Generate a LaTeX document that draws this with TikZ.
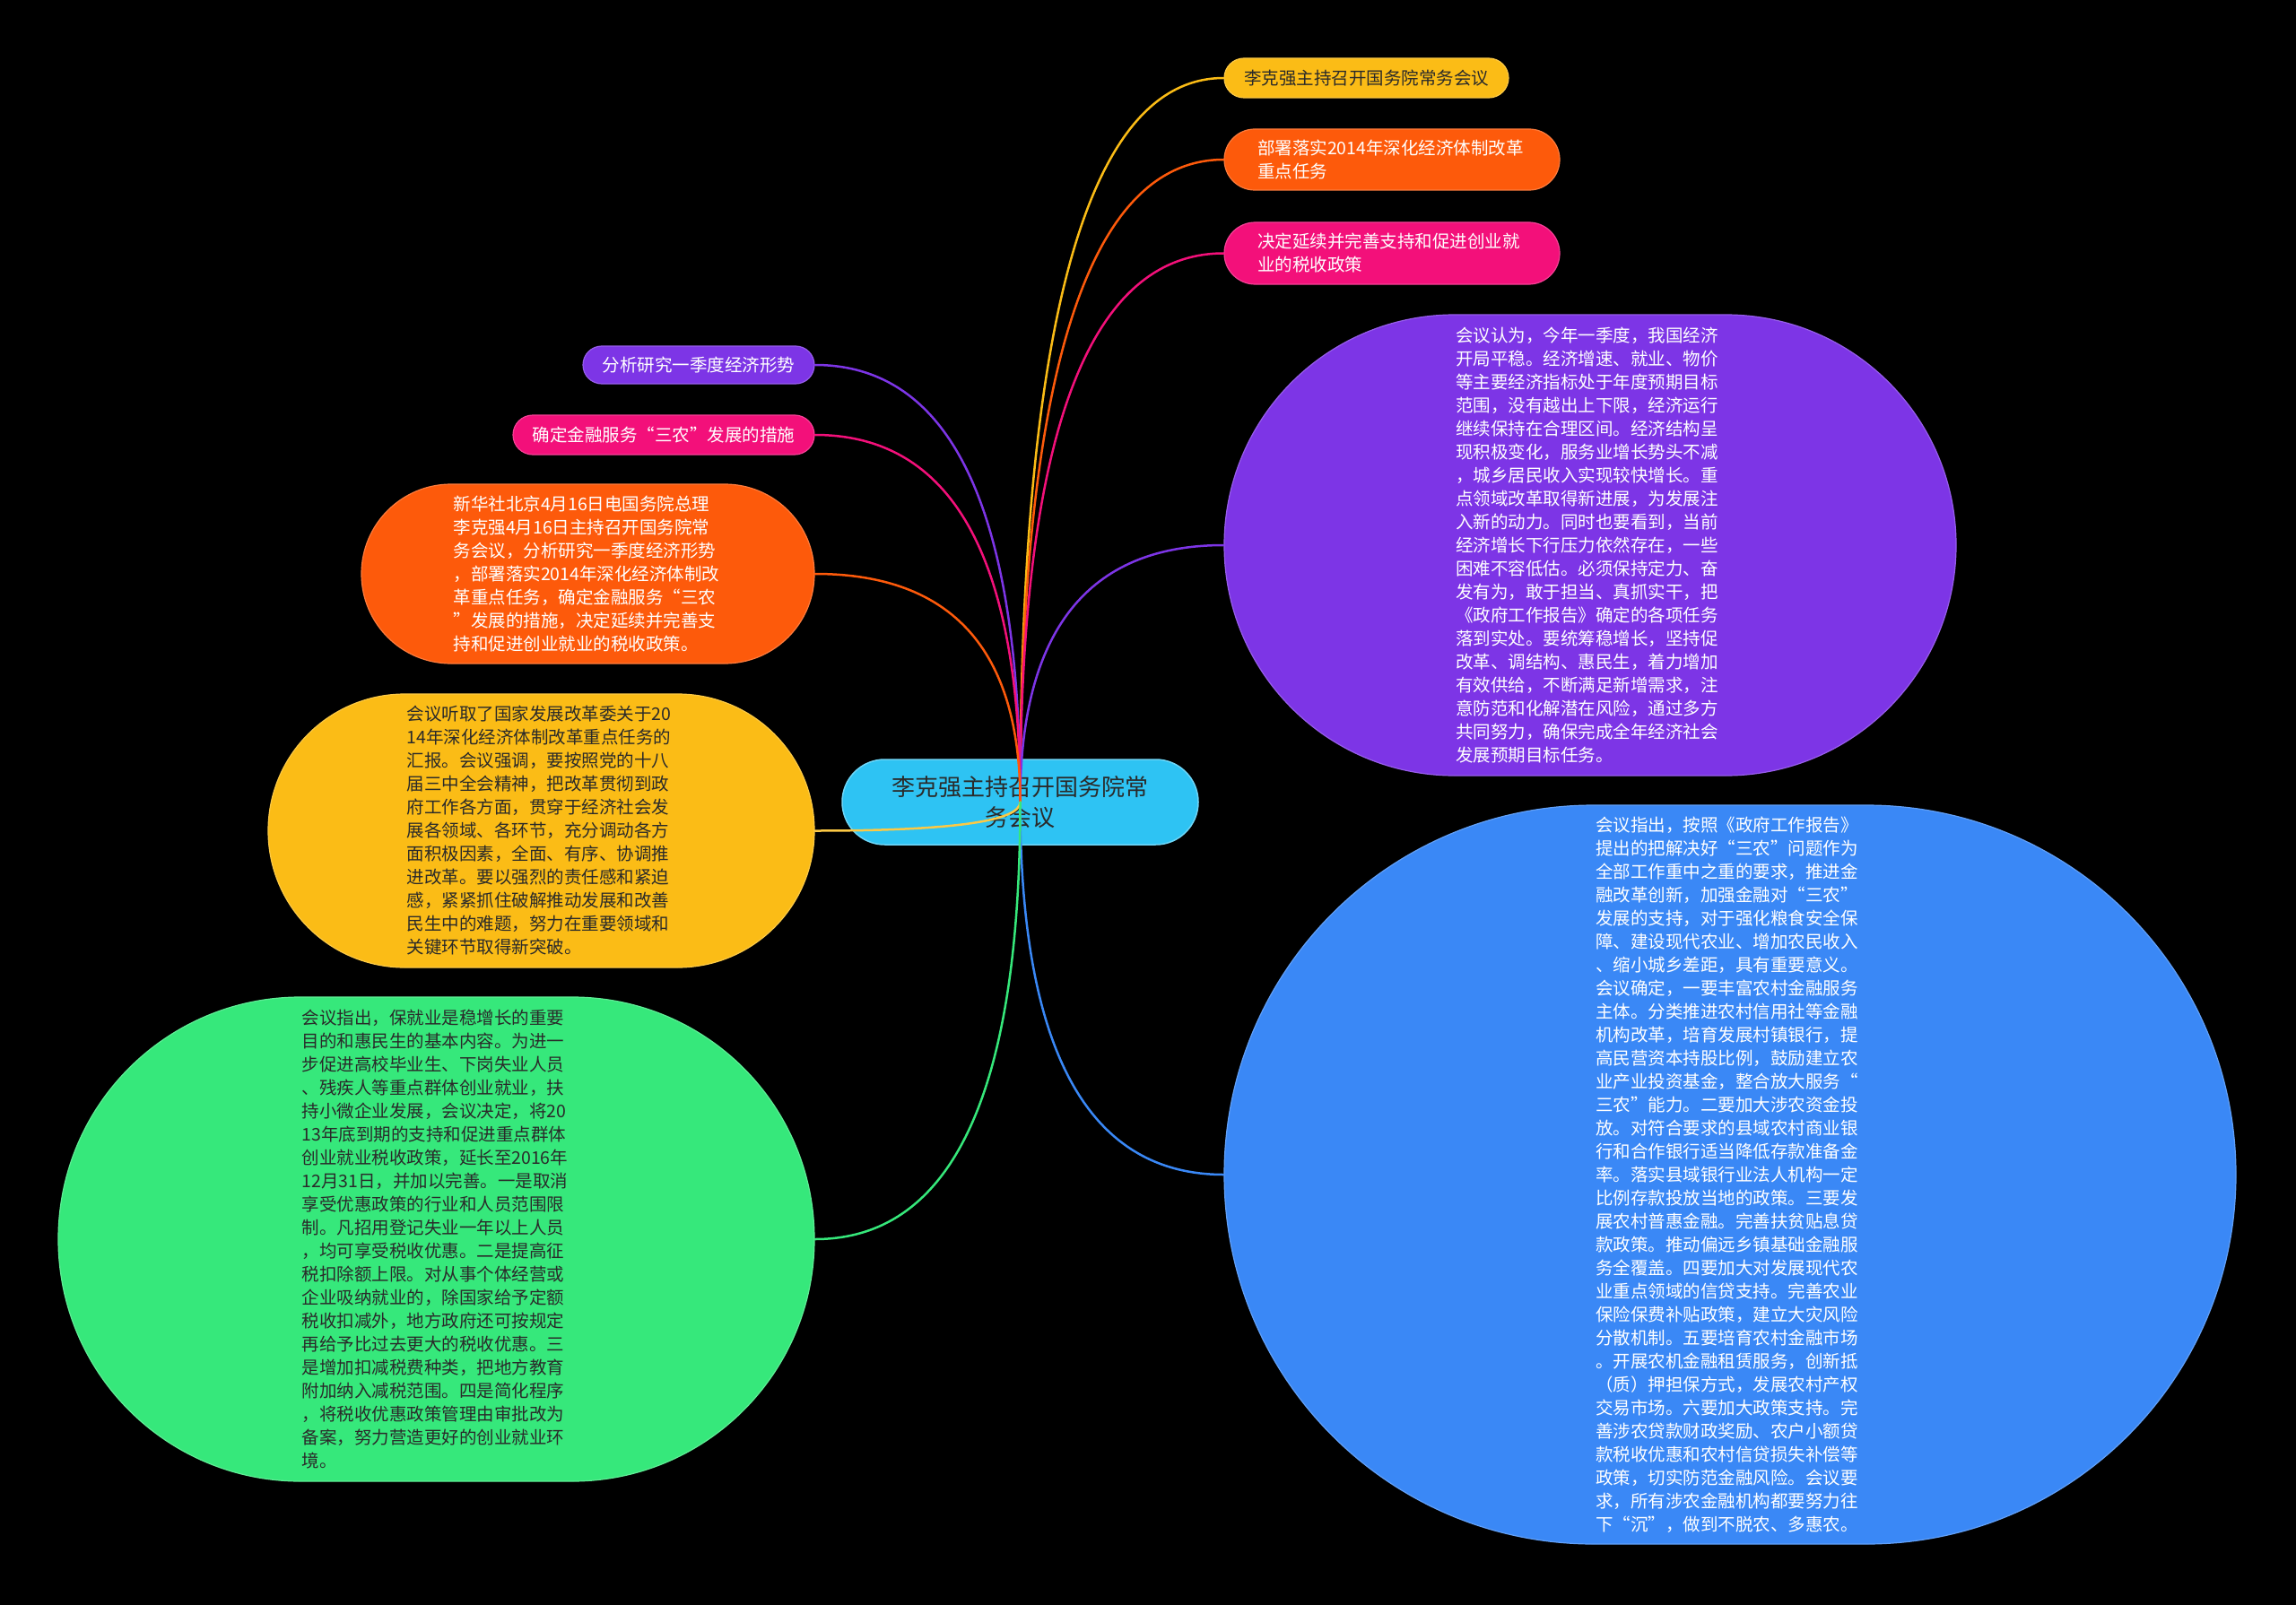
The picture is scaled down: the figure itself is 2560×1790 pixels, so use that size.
\documentclass[tikz,border=0pt]{standalone}
\usepackage{fontspec}
\newfontfamily\cjk{Noto Sans CJK SC}
\usetikzlibrary{shapes.misc,calc}
\definecolor{rootc}{HTML}{2EC3F3}
\definecolor{yelc}{HTML}{FBBC16}
\definecolor{orac}{HTML}{FD5A0B}
\definecolor{pinc}{HTML}{F3107A}
\definecolor{purc}{HTML}{7D35E6}
\definecolor{bluc}{HTML}{3A88F6}
\definecolor{grnc}{HTML}{36E87B}
\definecolor{darktext}{HTML}{2A2A2A}
\newcommand\mmlink[3]{%
  \coordinate (mmk) at (#2 |- #3);
  \draw[link,#1] (#2) .. controls ($(#2)!0.667!(mmk)$) and ($(#3)!0.667!(mmk)$) .. (#3);}
\begin{document}
\begin{tikzpicture}[x=1pt,y=-1pt,
  box/.style={rounded rectangle, inner sep=0pt, line width=1.2pt,
    font=\cjk\fontsize{19.5}{26}\selectfont},
  para/.style={box, text width=300pt, align=left},
  line/.style={box, align=center},
  link/.style={line width=2.5pt, line cap=round}]
\fill[black] (0,0) rectangle (2560,1790);
\useasboundingbox (0,0) rectangle (2560,1790);

% root
\node[rounded rectangle, inner sep=0pt, fill=rootc, draw=rootc!70!white, line width=1.5pt,
  minimum width=397pt, minimum height=95pt, text=darktext, align=center,
  font=\cjk\fontsize{26}{34}\selectfont] (root) at (1137.5,894.5)
  {李克强主持召开国务院常\\务会议};

% right side
\node[line, fill=yelc, draw=yelc!80!white, text=darktext, minimum width=317pt, minimum height=44pt]
  (t1) at (1523.5,87) {李克强主持召开国务院常务会议};
\node[para, fill=orac, draw=orac!80!white, text=white, minimum width=374pt, minimum height=68pt]
  (t2) at (1552,178) {部署落实2014年深化经济体制改革\\重点任务};
\node[para, fill=pinc, draw=pinc!80!white, text=white, minimum width=374pt, minimum height=69pt]
  (t3) at (1552,282.5) {决定延续并完善支持和促进创业就\\业的税收政策};
\node[para, fill=purc, draw=purc!80!white, text=white, minimum width=816pt, minimum height=514pt]
  (p) at (1773,608) {会议认为，今年一季度，我国经济\\
开局平稳。经济增速、就业、物价\\
等主要经济指标处于年度预期目标\\
范围，没有越出上下限，经济运行\\
继续保持在合理区间。经济结构呈\\
现积极变化，服务业增长势头不减\\
，城乡居民收入实现较快增长。重\\
点领域改革取得新进展，为发展注\\
入新的动力。同时也要看到，当前\\
经济增长下行压力依然存在，一些\\
困难不容低估。必须保持定力、奋\\
发有为，敢于担当、真抓实干，把\\
《政府工作报告》确定的各项任务\\
落到实处。要统筹稳增长，坚持促\\
改革、调结构、惠民生，着力增加\\
有效供给，不断满足新增需求，注\\
意防范和化解潜在风险，通过多方\\
共同努力，确保完成全年经济社会\\
发展预期目标任务。};
\node[para, fill=bluc, draw=bluc!80!white, text=white, minimum width=1128pt, minimum height=824pt]
  (b) at (1929,1310) {会议指出，按照《政府工作报告》\\
提出的把解决好“三农”问题作为\\
全部工作重中之重的要求，推进金\\
融改革创新，加强金融对“三农”\\
发展的支持，对于强化粮食安全保\\
障、建设现代农业、增加农民收入\\
、缩小城乡差距，具有重要意义。\\
会议确定，一要丰富农村金融服务\\
主体。分类推进农村信用社等金融\\
机构改革，培育发展村镇银行，提\\
高民营资本持股比例，鼓励建立农\\
业产业投资基金，整合放大服务“\\
三农”能力。二要加大涉农资金投\\
放。对符合要求的县域农村商业银\\
行和合作银行适当降低存款准备金\\
率。落实县域银行业法人机构一定\\
比例存款投放当地的政策。三要发\\
展农村普惠金融。完善扶贫贴息贷\\
款政策。推动偏远乡镇基础金融服\\
务全覆盖。四要加大对发展现代农\\
业重点领域的信贷支持。完善农业\\
保险保费补贴政策，建立大灾风险\\
分散机制。五要培育农村金融市场\\
。开展农机金融租赁服务，创新抵\\
（质）押担保方式，发展农村产权\\
交易市场。六要加大政策支持。完\\
善涉农贷款财政奖励、农户小额贷\\
款税收优惠和农村信贷损失补偿等\\
政策，切实防范金融风险。会议要\\
求，所有涉农金融机构都要努力往\\
下“沉”，做到不脱农、多惠农。};

% left side
\node[line, fill=purc, draw=purc!80!white, text=white, minimum width=258pt, minimum height=42pt]
  (l1) at (779,407) {分析研究一季度经济形势};
\node[line, fill=pinc, draw=pinc!80!white, text=white, minimum width=336pt, minimum height=44pt]
  (l2) at (740,485) {确定金融服务“三农”发展的措施};
\node[para, fill=orac, draw=orac!80!white, text=white, minimum width=505pt, minimum height=200pt]
  (l3) at (655.5,640) {新华社北京4月16日电国务院总理\\
李克强4月16日主持召开国务院常\\
务会议，分析研究一季度经济形势\\
，部署落实2014年深化经济体制改\\
革重点任务，确定金融服务“三农\\
”发展的措施，决定延续并完善支\\
持和促进创业就业的税收政策。};
\node[para, fill=yelc, draw=yelc!80!white, text=darktext, minimum width=609pt, minimum height=305pt]
  (l4) at (603.5,926.5) {会议听取了国家发展改革委关于20\\
14年深化经济体制改革重点任务的\\
汇报。会议强调，要按照党的十八\\
届三中全会精神，把改革贯彻到政\\
府工作各方面，贯穿于经济社会发\\
展各领域、各环节，充分调动各方\\
面积极因素，全面、有序、协调推\\
进改革。要以强烈的责任感和紧迫\\
感，紧紧抓住破解推动发展和改善\\
民生中的难题，努力在重要领域和\\
关键环节取得新突破。};
\node[para, fill=grnc, draw=grnc!80!white, text=darktext, minimum width=843pt, minimum height=540pt]
  (l5) at (486.5,1382) {会议指出，保就业是稳增长的重要\\
目的和惠民生的基本内容。为进一\\
步促进高校毕业生、下岗失业人员\\
、残疾人等重点群体创业就业，扶\\
持小微企业发展，会议决定，将20\\
13年底到期的支持和促进重点群体\\
创业就业税收政策，延长至2016年\\
12月31日，并加以完善。一是取消\\
享受优惠政策的行业和人员范围限\\
制。凡招用登记失业一年以上人员\\
，均可享受税收优惠。二是提高征\\
税扣除额上限。对从事个体经营或\\
企业吸纳就业的，除国家给予定额\\
税收扣减外，地方政府还可按规定\\
再给予比过去更大的税收优惠。三\\
是增加扣减税费种类，把地方教育\\
附加纳入减税范围。四是简化程序\\
，将税收优惠政策管理由审批改为\\
备案，努力营造更好的创业就业环\\
境。};

% connectors
\mmlink{yelc}{root.center}{t1.west}
\mmlink{orac}{root.center}{t2.west}
\mmlink{pinc}{root.center}{t3.west}
\mmlink{purc}{root.center}{p.west}
\mmlink{bluc}{root.center}{b.west}
\mmlink{purc}{root.center}{l1.east}
\mmlink{pinc}{root.center}{l2.east}
\mmlink{orac}{root.center}{l3.east}
\mmlink{yelc!80!white}{root.center}{l4.east}
\mmlink{grnc}{root.center}{l5.east}
\end{tikzpicture}
\end{document}
